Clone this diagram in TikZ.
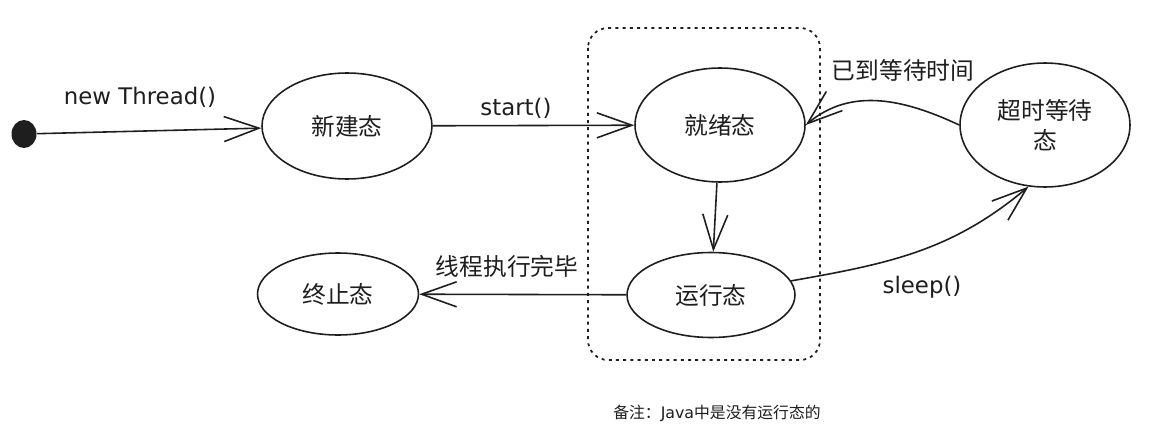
\documentclass[tikz,border=0pt]{standalone}
\usepackage{fontspec}
\setmainfont{Noto Sans CJK SC}
\newfontfamily\handfont{DejaVu Sans}
\usetikzlibrary{arrows.meta,shapes.geometric}
\definecolor{inkGray}{HTML}{1E1E1E}
\tikzset{
  state/.style={draw=inkGray, ellipse, line width=0.9pt, inner sep=0pt,
    text=inkGray, font=\fontsize{13.5}{17}\selectfont},
  flow/.style={-{Straight Barb[length=7mm,width=5mm]}, draw=inkGray, line width=0.9pt},
  lbl/.style={text=inkGray, font=\fontsize{13.5}{17}\selectfont},
  hand/.style={text=inkGray, font=\handfont\fontsize{13}{15}\selectfont},
}

\begin{document}
\begin{tikzpicture}[x=0.02cm,y=-0.02cm]
  \fill[white] (0,0) rectangle (1159,446);
  \useasboundingbox (0,0) rectangle (1159,446);
  % Dotted frame round the ready and running states
  \draw[draw=inkGray, line width=1pt, dash pattern=on 1.7pt off 2.4pt, rounded corners=0.4cm]
    (588,28) rectangle (820,360);
  % Start point and states
  \node[ellipse, fill=inkGray, minimum width=0.5cm, minimum height=0.56cm, inner sep=0pt] (init) at (24,134) {};
  \node[state, minimum width=3.4cm, minimum height=2.12cm] (newst) at (347,126) {新建态};
  \node[state, minimum width=3.4cm, minimum height=2.28cm] (ready) at (720,125) {就绪态};
  \node[state, minimum width=3.36cm, minimum height=1.7cm] (running) at (711,295) {运行态};
  \node[state, minimum width=3.22cm, minimum height=1.64cm] (ended) at (338,294) {终止态};
  \node[state, minimum width=3.4cm, minimum height=2.48cm, align=center] (timed) at (1045,125) {超时等待\\态};
  % Transition labels
  \node[hand] (lnew) at (140,97) {new Thread()};
  \node[hand] (lstart) at (516,108) {start()};
  \node[lbl] (lwait) at (903,70) {已到等待时间};
  \node[lbl] (lend) at (507,266) {线程执行完毕};
  \node[hand] (lsleep) at (922,287) {sleep()};
  % Note
  \node[text=inkGray, font=\fontsize{9}{11}\selectfont] (note) at (717,413) {备注：{\handfont Java}中是没有运行态的};
  % Transitions
  \draw[flow] (init) -- (newst);
  \draw[flow] (newst) -- (ready);
  \draw[flow] (ready) -- (running);
  \draw[flow] (running) -- (ended);
  \draw[flow] (timed.west) to[out=155,in=40] (ready.east);
  \draw[flow] (running.10) to[out=10,in=220] (timed.-105);
\end{tikzpicture}
\end{document}
